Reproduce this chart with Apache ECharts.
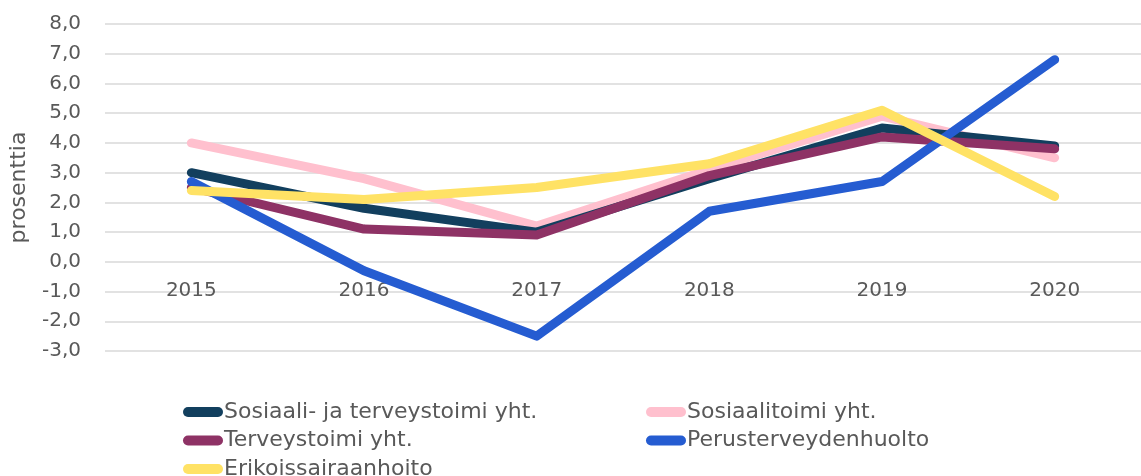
<!DOCTYPE html>
<html>
<head>
<meta charset="utf-8">
<script src="https://cdn.jsdelivr.net/npm/echarts@6/dist/echarts.min.js"></script>
<style>
  html, body { margin: 0; padding: 0; background: #fff; }
  #chart { width: 1141px; height: 476px; }
</style>
</head>
<body>
<div id="chart"></div>
<script>
const years = ["2015", "2016", "2017", "2018", "2019", "2020"];

// percent change per year
const sosJaTerv = [3.0, 1.8, 1.0, 2.8, 4.5, 3.9];
const sosiaalitoimi = [4.0, 2.8, 1.2, 3.1, 4.9, 3.5];
const terveystoimi = [2.5, 1.1, 0.9, 2.9, 4.2, 3.8];
const perusterv = [2.7, -0.3, -2.5, 1.7, 2.7, 6.8];
const erikois = [2.4, 2.1, 2.5, 3.3, 5.1, 2.2];

const names = [
  "Sosiaali- ja terveystoimi yht.",
  "Sosiaalitoimi yht.",
  "Terveystoimi yht.",
  "Perusterveydenhuolto",
  "Erikoissairaanhoito",
];

const FONT = "DejaVu Sans";
const chart = echarts.init(document.getElementById("chart"));

const lineSeries = (name, data, color) => ({
  name: name,
  type: "line",
  data: data,
  symbol: "none",
  lineStyle: { width: 9, color: color, cap: "round", join: "round" },
  itemStyle: { color: color },
});

// pill shaped legend marker
const pill = "path://M5,0 L35,0 A5,5 0 0 1 35,10 L5,10 A5,5 0 0 1 5,0 Z";

const legendBase = {
  orient: "vertical",
  icon: pill,
  itemWidth: 40,
  itemHeight: 10,
  itemGap: 6.5,
  padding: 0,
  height: 100,
  textStyle: {
    fontFamily: FONT,
    fontSize: 22,
    color: "#595959",
    padding: [0, 0, 0, -4],
  },
};

chart.setOption({
  animation: false,
  textStyle: { fontFamily: FONT },
  grid: { left: 105, top: 24, width: 1044, height: 327 },
  legend: [
    Object.assign({}, legendBase, { left: 183, top: 401, data: [names[0], names[2], names[4]] }),
    Object.assign({}, legendBase, { left: 646, top: 401, data: [names[1], names[3]] }),
  ],
  xAxis: {
    type: "category",
    data: years,
    boundaryGap: true,
    offset: -89,
    axisLine: { show: false },
    axisTick: { show: false },
    axisLabel: { color: "#595959", fontFamily: FONT, fontSize: 20, margin: 19 },
  },
  yAxis: {
    type: "value",
    min: -3,
    max: 8,
    interval: 1,
    name: "prosenttia",
    nameLocation: "middle",
    nameGap: 75,
    nameTextStyle: { color: "#595959", fontFamily: FONT, fontSize: 22 },
    axisLine: { show: false },
    axisTick: { show: false },
    axisLabel: {
      color: "#595959",
      fontFamily: FONT,
      fontSize: 20,
      margin: 24,
      formatter: (v) => v.toFixed(1).replace(".", ","),
    },
    splitLine: { lineStyle: { color: "#d9d9d9", width: 1.5 } },
  },
  series: [
    lineSeries(names[1], sosiaalitoimi, "#FFC0CE"),
    lineSeries(names[0], sosJaTerv, "#123F5E"),
    lineSeries(names[2], terveystoimi, "#8E3265"),
    lineSeries(names[3], perusterv, "#255CD1"),
    lineSeries(names[4], erikois, "#FFE265"),
  ],
});
</script>
</body>
</html>
